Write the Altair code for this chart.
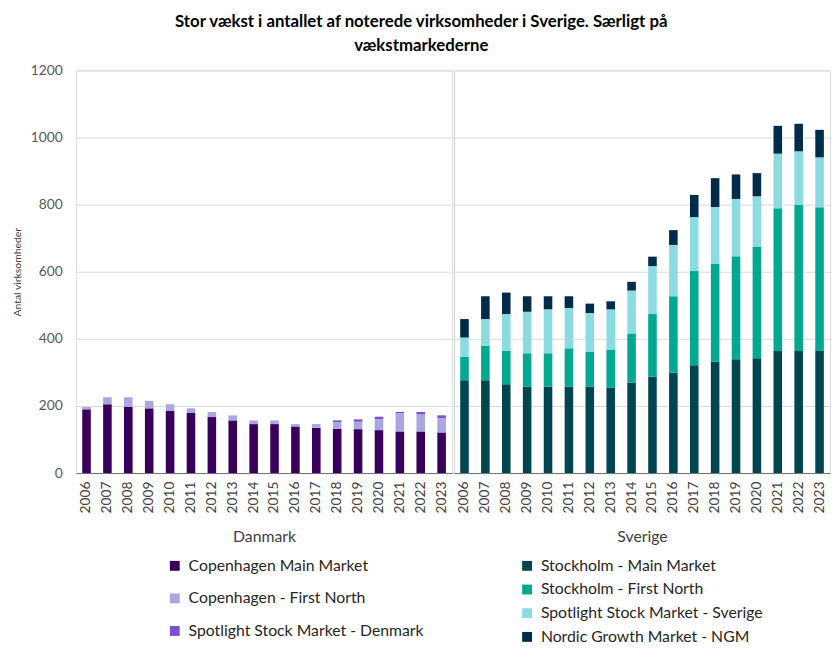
import altair as alt
import pandas as pd

years = [str(y) for y in range(2006, 2024)]

dk_series = ["Copenhagen Main Market", "Copenhagen - First North", "Spotlight Stock Market - Denmark"]
dk_colors = ["#38005a", "#aaa6e2", "#7c4fd3"]
dk_main = [190, 205, 197, 193, 186, 179, 167, 157, 146, 146, 139, 135, 132, 131, 128, 124, 124, 121]
dk_fn = [7, 21, 29, 22, 19, 14, 15, 15, 11, 11, 7, 11, 20, 22, 33, 55, 51, 43]
dk_spot = [0, 0, 0, 0, 0, 0, 0, 0, 0, 0, 0, 0, 5, 7, 7, 3, 7, 8]

se_series = ["Stockholm  - Main Market", "Stockholm - First North",
             "Spotlight Stock Market - Sverige", "Nordic Growth Market - NGM"]
se_colors = ["#004651", "#00a98f", "#8bdbe0", "#002b4a"]
se_main = [277, 277, 265, 258, 258, 258, 258, 255, 270, 288, 299, 321, 332, 339, 342, 364, 364, 364]
se_fn = [69, 102, 99, 99, 99, 114, 103, 113, 146, 186, 228, 281, 292, 307, 333, 425, 435, 428]
se_spot = [58, 80, 110, 124, 131, 120, 116, 120, 128, 143, 153, 161, 169, 171, 150, 163, 160, 149]
se_ngm = [55, 68, 64, 46, 39, 35, 28, 24, 26, 28, 44, 66, 86, 73, 69, 83, 82, 82]

y_ticks = [0, 200, 400, 600, 800, 1000, 1200]
title_lines = ["Stor vækst i antallet af noterede virksomheder i Sverige. Særligt på", "vækstmarkederne"]

FONT = "Lato"


def make_df(series, cols):
    rows = []
    for i, y in enumerate(years):
        for k, (s, vals) in enumerate(zip(series, cols)):
            rows.append({"year": y, "series": s, "value": vals[i], "ord": k})
    return pd.DataFrame(rows)


dk_df = make_df(dk_series, [dk_main, dk_fn, dk_spot])
se_df = make_df(se_series, [se_main, se_fn, se_spot, se_ngm])

W = 381
H = 408


def panel(df, series, colors, group_name, left, legend_x, legend_y, row_pad):
    if left:
        yaxis = alt.Axis(values=y_ticks, format="d", title="Antal virksomheder", titleFontSize=10.5,
                         titleFontWeight="normal", titleColor="#404040", titlePadding=8,
                         labelFontSize=14, labelColor="#595959", labelPadding=14,
                         ticks=False, domain=False, grid=True, gridColor="#d9d9d9")
    else:
        yaxis = alt.Axis(values=y_ticks, title=None, labels=False, ticks=False,
                         domain=True, domainColor="#d0d0d0", grid=True, gridColor="#d9d9d9")
    return alt.Chart(df).mark_bar().encode(
        x=alt.X("year:N", sort=years,
                scale=alt.Scale(paddingInner=0.59, paddingOuter=0.295),
                axis=alt.Axis(title=group_name, labelAngle=-90, labelFontSize=14,
                              labelColor="#404040", labelPadding=8, ticks=False,
                              domainColor="#6f6f6f", titleFontSize=16, titleFontWeight="normal",
                              titleColor="#404040", titlePadding=16)),
        y=alt.Y("value:Q", stack="zero", scale=alt.Scale(domain=[0, 1200]), axis=yaxis),
        color=alt.Color("series:N", sort=series,
                        scale=alt.Scale(domain=series, range=colors),
                        legend=alt.Legend(orient="none", legendX=legend_x, legendY=legend_y,
                                          title=None, symbolType="square", symbolSize=100,
                                          symbolStrokeWidth=0, labelFontSize=16, labelFont=FONT,
                                          labelColor="#262626", labelLimit=400, rowPadding=row_pad,
                                          padding=0, labelOffset=6)),
        order=alt.Order("ord:Q", sort="ascending"),
    ).properties(width=W, height=H)


left = panel(dk_df, dk_series, dk_colors, "Danmark", True, 92, 494, 17)
right = panel(se_df, se_series, se_colors, "Sverige", False, 66, 494, 8)

chart = alt.hconcat(left, right, spacing=0).resolve_scale(color="independent").properties(
    title=alt.TitleParams(title_lines, font=FONT, fontSize=17, fontWeight="bold", anchor="middle",
                          lineHeight=25, offset=8, color="#000000"),
    padding={"left": 4, "top": 0, "right": 0, "bottom": 0},
).configure_view(stroke=None).configure(font=FONT)

chart.save("out.html", embed_options={"renderer": "svg", "actions": False})
